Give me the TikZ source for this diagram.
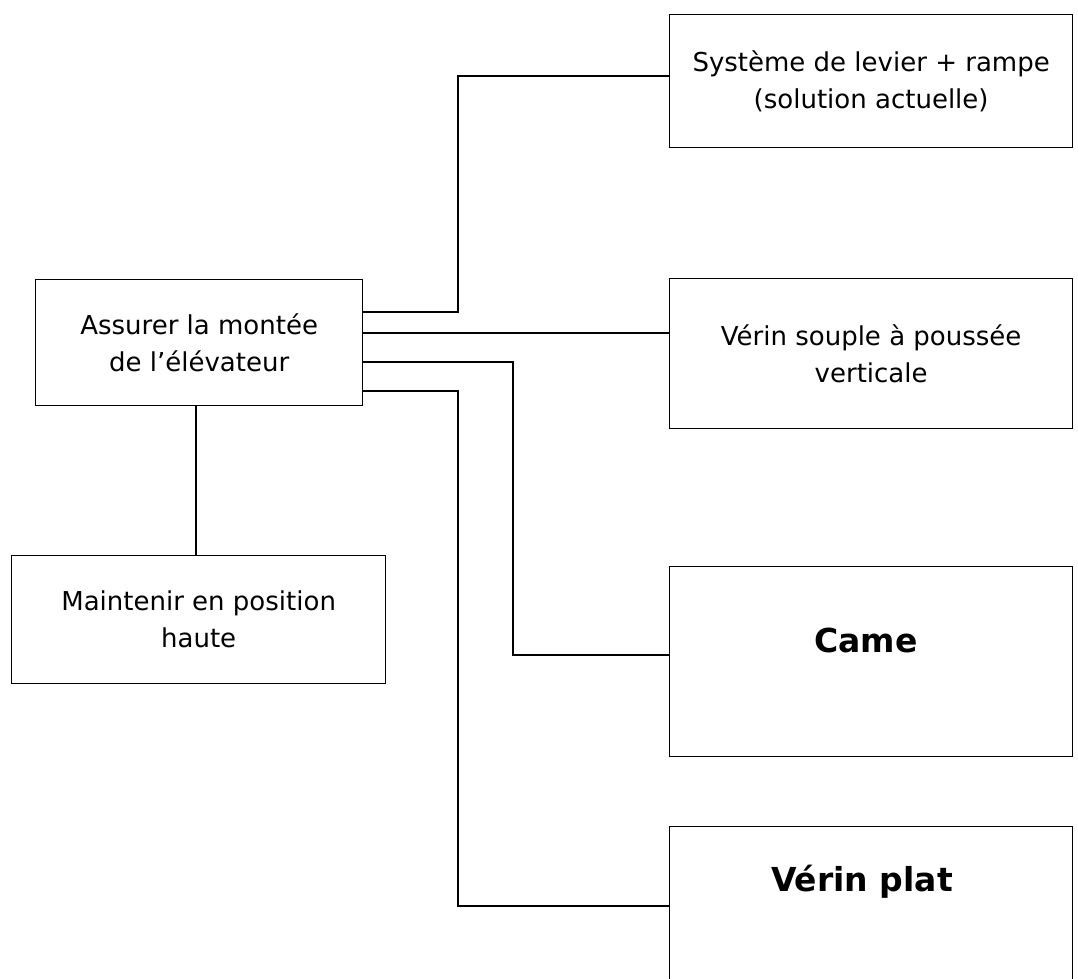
\documentclass[tikz,border=0pt]{standalone}
\usepackage{fontspec}
\setmainfont{DejaVu Sans}
\begin{document}
\begin{tikzpicture}[x=1pt,y=-1pt,
  box/.style={draw, line width=1.3pt, anchor=north west, inner sep=0pt, align=center,
    font=\fontsize{26}{37}\selectfont},
  boldlabel/.style={font=\fontsize{33}{37}\selectfont\bfseries},
  link/.style={line width=1.3pt}]
\useasboundingbox (0,0) rectangle (1078,979);
\node[box, minimum width=327pt, minimum height=126pt] (main) at (35,279) {Assurer la montée\\de l’élévateur};
\node[box, minimum width=374pt, minimum height=128pt] (hold) at (11,555) {Maintenir en position\\haute};
\node[box, minimum width=403pt, minimum height=133pt] (lev) at (669,14) {Système de levier + rampe\\(solution actuelle)};
\node[box, minimum width=403pt, minimum height=150pt] (soup) at (669,278) {Vérin souple à poussée\\verticale};
\node[box, minimum width=403pt, minimum height=190pt] (came) at (669,566) {};
\node[boldlabel] (camet) at (866,640) {Came};
\node[box, minimum width=403pt, minimum height=170pt] (plat) at (669,826) {};
\node[boldlabel] (platt) at (862,882) {Vérin plat};
\coordinate (m1) at (362,312);
\coordinate (m2) at (362,333);
\coordinate (m3) at (362,362);
\coordinate (m4) at (362,391);
\draw[link] (m1) -| (458,76) -- (lev.west |- 0,76);
\draw[link] (m2) -- (soup.west |- m2);
\draw[link] (m3) -| (513,655) -- (came.west |- 0,655);
\draw[link] (m4) -| (458,906) -- (plat.west |- 0,906);
\draw[link] (main.south -| 196,0) -- (hold.north -| 196,0);
\end{tikzpicture}
\end{document}
